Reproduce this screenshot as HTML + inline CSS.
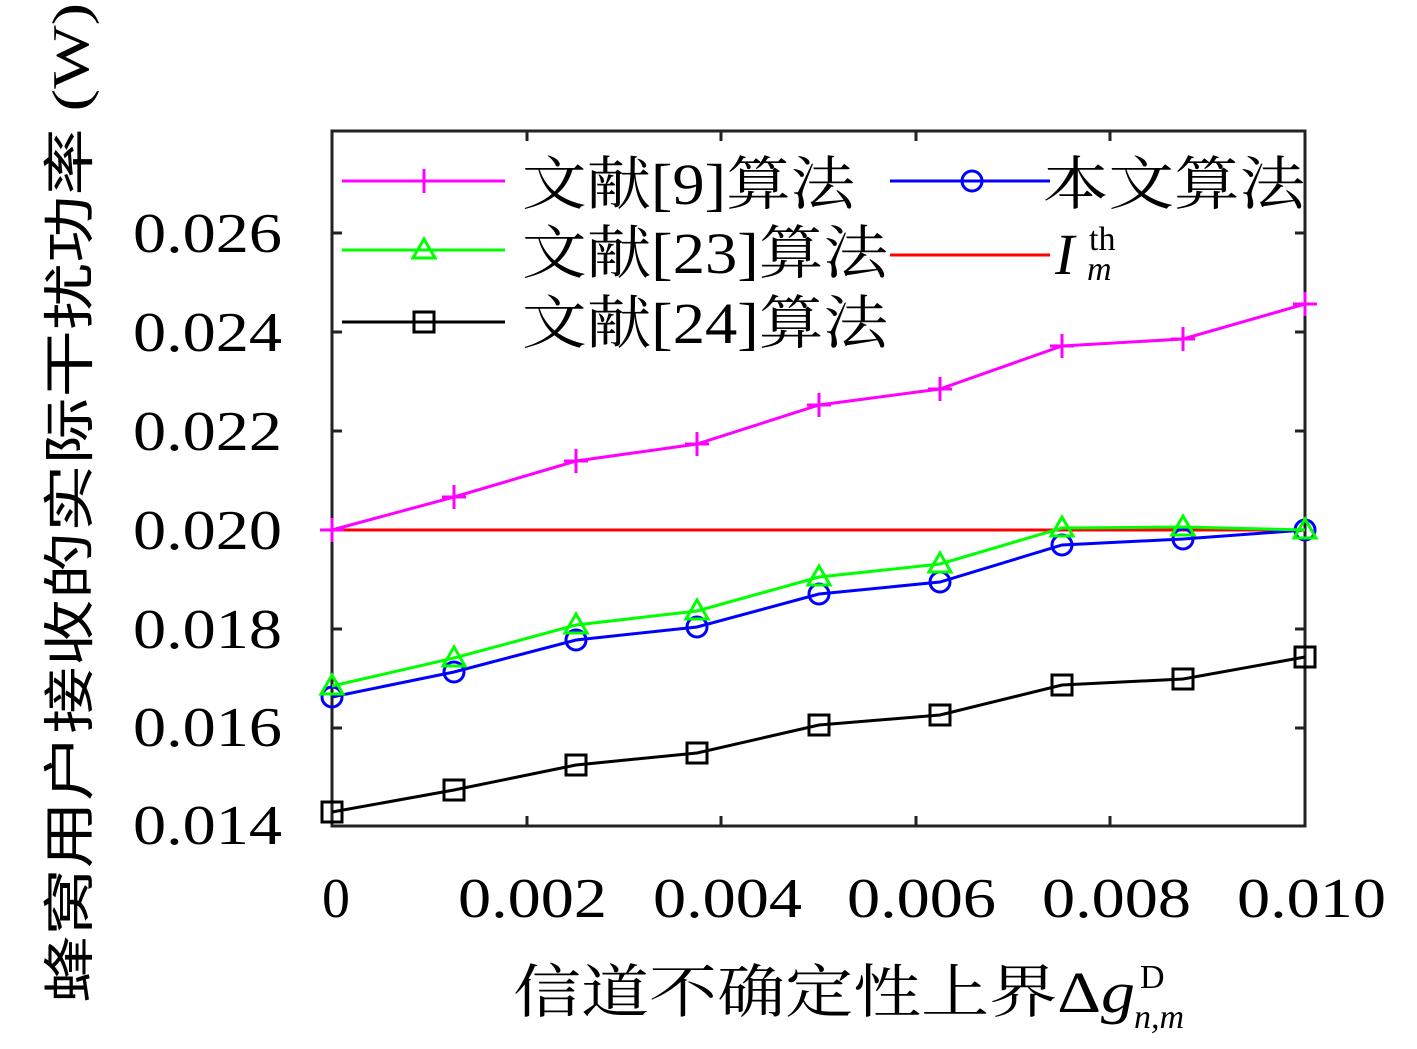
<!DOCTYPE html>
<html><head><meta charset="utf-8"><style>
html,body{margin:0;padding:0;background:#fff;}
</style></head><body>
<svg width="1417" height="1044" viewBox="0 0 1417 1044" xmlns="http://www.w3.org/2000/svg">
<rect width="1417" height="1044" fill="#fff"/>
<g font-family="Liberation Serif, serif" font-size="56" fill="#000" lengthAdjust="spacingAndGlyphs">
<text x="133" y="252" textLength="149" lengthAdjust="spacingAndGlyphs">0.026</text>
<text x="133" y="351" textLength="149" lengthAdjust="spacingAndGlyphs">0.024</text>
<text x="133" y="450" textLength="149" lengthAdjust="spacingAndGlyphs">0.022</text>
<text x="133" y="549" textLength="149" lengthAdjust="spacingAndGlyphs">0.020</text>
<text x="133" y="648" textLength="149" lengthAdjust="spacingAndGlyphs">0.018</text>
<text x="133" y="746" textLength="149" lengthAdjust="spacingAndGlyphs">0.016</text>
<text x="133" y="844" textLength="149" lengthAdjust="spacingAndGlyphs">0.014</text>
<text x="322" y="917">0</text>
<text x="458" y="917" textLength="149" lengthAdjust="spacingAndGlyphs">0.002</text>
<text x="653" y="917" textLength="149" lengthAdjust="spacingAndGlyphs">0.004</text>
<text x="847" y="917" textLength="149" lengthAdjust="spacingAndGlyphs">0.006</text>
<text x="1042" y="917" textLength="149" lengthAdjust="spacingAndGlyphs">0.008</text>
<text x="1237" y="917" textLength="149" lengthAdjust="spacingAndGlyphs">0.010</text>
</g>
<g stroke="#222" stroke-width="3" fill="none">
<rect x="332" y="131" width="973" height="695"/>
<path d="M527 826v-10M721 826v-10M916 826v-10M1110 826v-10M527 131v10M721 131v10M916 131v10M1110 131v10"/>
<path d="M332 233h10M332 332h10M332 431h10M332 530h10M332 629h10M332 728h10M1305 233h-10M1305 332h-10M1305 431h-10M1305 530h-10M1305 629h-10M1305 728h-10"/>
</g>
<line x1="332" y1="530" x2="1305" y2="530" stroke="#f00" stroke-width="3"/>
<polyline fill="none" stroke="#f0f" stroke-width="3" points="332,530 454,497 576,461 697,444 819,405 940,389 1062,346 1183,339 1305,304"/>
<g stroke="#f0f" stroke-width="3">
<path d="M332 518v24M320 530h24M454 485v24M442 497h24M576 449v24M564 461h24M697 432v24M685 444h24M819 393v24M807 405h24M940 377v24M928 389h24M1062 334v24M1050 346h24M1183 327v24M1171 339h24M1305 292v24M1293 304h24"/>
</g>
<polyline fill="none" stroke="#00f" stroke-width="3" points="332,697 454,672 576,640 697,627 819,594 940,582 1062,545 1183,539 1305,530"/>
<g fill="none" stroke="#00f" stroke-width="3">
<circle cx="332" cy="697" r="10"/><circle cx="454" cy="672" r="10"/><circle cx="576" cy="640" r="10"/><circle cx="697" cy="627" r="10"/><circle cx="819" cy="594" r="10"/><circle cx="940" cy="582" r="10"/><circle cx="1062" cy="545" r="10"/><circle cx="1183" cy="539" r="10"/><circle cx="1305" cy="530" r="10"/>
</g>
<polyline fill="none" stroke="#0f0" stroke-width="3" points="332,686 454,658 576,625 697,611 819,577 940,564 1062,528 1183,527 1305,530"/>
<g fill="none" stroke="#0f0" stroke-width="3">
<path d="M332 675l11 19h-22z"/><path d="M454 647l11 19h-22z"/><path d="M576 614l11 19h-22z"/><path d="M697 600l11 19h-22z"/><path d="M819 566l11 19h-22z"/><path d="M940 553l11 19h-22z"/><path d="M1062 517l11 19h-22z"/><path d="M1183 516l11 19h-22z"/><path d="M1305 519l11 19h-22z"/>
</g>
<polyline fill="none" stroke="#000" stroke-width="3" points="332,812 454,790 576,765 697,753 819,725 940,715 1062,685 1183,679 1305,657"/>
<g fill="none" stroke="#000" stroke-width="3">
<rect x="322" y="802" width="20" height="20"/><rect x="444" y="780" width="20" height="20"/><rect x="566" y="755" width="20" height="20"/><rect x="687" y="743" width="20" height="20"/><rect x="809" y="715" width="20" height="20"/><rect x="930" y="705" width="20" height="20"/><rect x="1052" y="675" width="20" height="20"/><rect x="1173" y="669" width="20" height="20"/><rect x="1295" y="647" width="20" height="20"/>
</g>
<g stroke-width="3" fill="none">
<path d="M342 181h163M424 169v24M412 181h24" stroke="#f0f"/>
<path d="M342 250h163" stroke="#0f0"/><path d="M424 239l11 19h-22z" stroke="#0f0"/>
<path d="M342 322h163" stroke="#000"/><rect x="414" y="312" width="20" height="20" stroke="#000"/>
<path d="M890 181h160" stroke="#00f"/><circle cx="972" cy="181" r="10" stroke="#00f"/>
<path d="M890 255h160" stroke="#f00"/>
</g>
<g font-family="Liberation Serif, 'Noto Serif CJK SC', serif" font-size="58" fill="#000">
<text x="522" y="204" textLength="333" lengthAdjust="spacingAndGlyphs">文献[9]算法</text>
<text x="522" y="273" textLength="366" lengthAdjust="spacingAndGlyphs">文献[23]算法</text>
<text x="522" y="343" textLength="366" lengthAdjust="spacingAndGlyphs">文献[24]算法</text>
<text x="1043" y="204" textLength="262" lengthAdjust="spacingAndGlyphs">本文算法</text>
<text x="1055" y="274" font-style="italic">I</text>
<text x="1089" y="250" font-size="34">th</text>
<text x="1087" y="280" font-size="34" font-style="italic">m</text>
<text x="513" y="1012" textLength="622" lengthAdjust="spacingAndGlyphs">信道不确定性上界Δ<tspan font-style="italic">g</tspan></text>
<text x="1140" y="988" font-size="34">D</text>
<text x="1134" y="1028" font-size="34" font-style="italic">n,m</text>
</g>
<text transform="translate(88,503) rotate(-90)" text-anchor="middle" font-family="Liberation Serif, 'Noto Sans CJK SC', sans-serif" font-size="52" fill="#000" textLength="1000" lengthAdjust="spacingAndGlyphs">蜂窝用户接收的实际干扰功率 (W)</text>
</svg>
</body></html>
